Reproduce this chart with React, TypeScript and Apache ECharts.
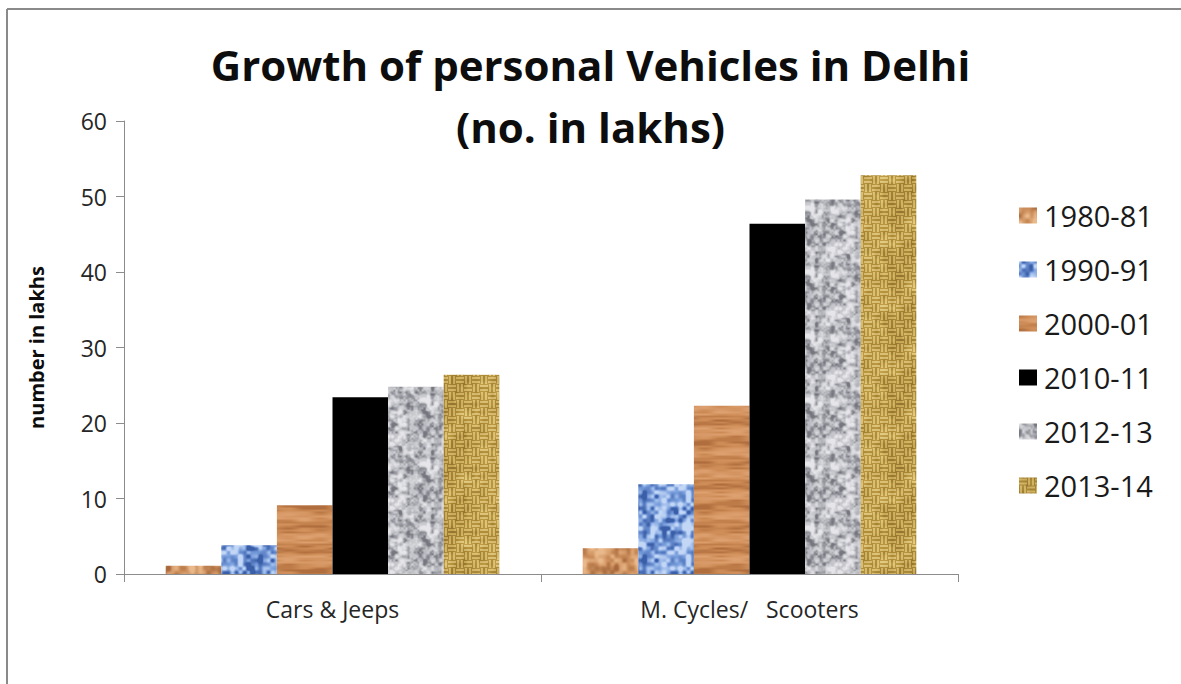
import React, { useEffect, useRef } from "react";
import * as echarts from "echarts";

const categories = ["Cars & Jeeps", "M. Cycles/   Scooters"];
const years = ["1980-81", "1990-91", "2000-01", "2010-11", "2012-13", "2013-14"];
const carsJeeps = [1.1, 3.8, 9.1, 23.4, 24.8, 26.4];
const cyclesScooters = [3.4, 11.9, 22.3, 46.4, 49.6, 52.8];
const yTicks = { min: 0, max: 60, interval: 10 };

const SIZE = 64;

function hash(i: number, j: number, seed: number) {
  let h = Math.imul(i | 0, 374761393) ^ Math.imul(j | 0, 668265263) ^ Math.imul(seed | 0, 982451653);
  h = Math.imul(h ^ (h >>> 13), 1274126177);
  h ^= h >>> 16;
  return (h >>> 0) / 4294967295;
}

function vnoise(x: number, y: number, cx: number, cy: number, seed: number) {
  const nx = SIZE / cx, ny = SIZE / cy;
  const gx = x / cx, gy = y / cy;
  const x0 = Math.floor(gx), y0 = Math.floor(gy);
  const fx = gx - x0, fy = gy - y0;
  const sx = fx * fx * (3 - 2 * fx), sy = fy * fy * (3 - 2 * fy);
  const wx = (a: number) => ((a % nx) + nx) % nx;
  const wy = (a: number) => ((a % ny) + ny) % ny;
  const a = hash(wx(x0), wy(y0), seed);
  const b = hash(wx(x0 + 1), wy(y0), seed);
  const c = hash(wx(x0), wy(y0 + 1), seed);
  const d = hash(wx(x0 + 1), wy(y0 + 1), seed);
  return a + (b - a) * sx + (c - a) * sy + (a - b - c + d) * sx * sy;
}

function hexRgb(h: string) {
  return [parseInt(h.slice(1, 3), 16), parseInt(h.slice(3, 5), 16), parseInt(h.slice(5, 7), 16)];
}

function ramp(stops: string[], v: number) {
  const s = stops.map(hexRgb);
  const t = Math.max(0, Math.min(1, v)) * (s.length - 1);
  const i = Math.min(s.length - 2, Math.floor(t));
  const f = t - i;
  return [0, 1, 2].map((k) => s[i][k] + (s[i + 1][k] - s[i][k]) * f);
}

function makeTexture(fn: (x: number, y: number) => number[]) {
  const cv = document.createElement("canvas");
  cv.width = SIZE;
  cv.height = SIZE;
  const ctx = cv.getContext("2d")!;
  const img = ctx.createImageData(SIZE, SIZE);
  for (let y = 0; y < SIZE; y++) {
    for (let x = 0; x < SIZE; x++) {
      const c = fn(x, y);
      const o = (y * SIZE + x) * 4;
      img.data[o] = c[0];
      img.data[o + 1] = c[1];
      img.data[o + 2] = c[2];
      img.data[o + 3] = 255;
    }
  }
  ctx.putImageData(img, 0, 0);
  return { image: cv, repeat: "repeat", imageWidth: SIZE, imageHeight: SIZE };
}

function contrast(v: number, k: number) {
  return 0.5 + (v - 0.5) * k;
}

function buildFills() {
  const t1980 = makeTexture((x, y) => {
    const v = 0.5 * vnoise(x, y, 8, 8, 1) + 0.3 * vnoise(x, y, 4, 4, 2) + 0.2 * vnoise(x, y, 16, 16, 3);
    return ramp(["#a66a3e", "#cf925f", "#e9b98c"], contrast(v, 2.0));
  });
  const t1990 = makeTexture((x, y) => {
    const v = 0.6 * vnoise(x, y, 4, 4, 4) + 0.4 * vnoise(x, y, 8, 8, 5);
    return ramp(["#3b5ea8", "#7a9fdc", "#c2d6f6"], contrast(v, 2.2));
  });
  const t2000 = makeTexture((x, y) => {
    const warp = 3 * vnoise(x, y, 32, 16, 6);
    const band = 0.5 + 0.5 * Math.sin((2 * Math.PI * 3 * (y + warp)) / SIZE);
    const grain = vnoise(x, y, 16, 2, 7);
    const v = 0.45 * band + 0.55 * grain;
    return ramp(["#b06e3e", "#cd8b56", "#dda170"], contrast(v, 1.3));
  });
  const t2012 = makeTexture((x, y) => {
    const v = 0.45 * vnoise(x, y, 4, 4, 8) + 0.35 * vnoise(x, y, 8, 8, 9) + 0.2 * vnoise(x, y, 2, 2, 10);
    return ramp(["#76777f", "#bdbec3", "#e6e6ea"], contrast(v, 2.0));
  });
  const t2013 = makeTexture((x, y) => {
    const bx = Math.floor(x / 8), by = Math.floor(y / 8);
    const horiz = (bx + by) % 2 === 0;
    const p = horiz ? y % 4 : x % 4;
    const thread = Math.sin((Math.PI * (p + 0.5)) / 4);
    const n = vnoise(x, y, 4, 4, 11);
    const m = vnoise(x, y, 16, 16, 12);
    const v = 0.6 * thread + 0.2 * n + 0.2 * m;
    return ramp(["#765820", "#b8963f", "#e8d08a"], contrast(v, 1.15));
  });
  return [t1980, t1990, t2000, "#000000", t2012, t2013];
}

export default function App() {
  const ref = useRef<HTMLDivElement>(null);
  useEffect(() => {
    if (!ref.current) return;
    const chart = echarts.init(ref.current, null, { renderer: "svg" });
    const fills = buildFills();
    const font = "'Open Sans', sans-serif";
    const series = years.map((y, i) => ({
      name: y,
      type: "bar",
      data: [carsJeeps[i], cyclesScooters[i]],
      barGap: "0%",
      barCategoryGap: "20%",
      itemStyle: { color: fills[i] as any },
    }));
    chart.setOption({
      animation: false,
      backgroundColor: "#ffffff",
      textStyle: { fontFamily: font },
      title: {
        text: "Growth of personal Vehicles in Delhi\n(no. in lakhs)",
        left: "center",
        top: 28,
        textStyle: { fontFamily: font, fontSize: 42, fontWeight: "bold", color: "#0d0d0d", lineHeight: 62 },
      },
      legend: {
        orient: "vertical",
        left: 1014,
        top: 196,
        itemWidth: 18,
        itemHeight: 16,
        itemGap: 25,
        icon: "rect",
        data: years,
        textStyle: { fontFamily: font, fontSize: 29, color: "#1a1a1a", padding: [0, 0, 0, 2] },
      },
      grid: { left: 124, right: 223, top: 121, bottom: 110 },
      xAxis: {
        type: "category",
        data: categories,
        axisLine: { lineStyle: { color: "#8c8c8c", width: 1 } },
        axisTick: { show: true, length: 8, lineStyle: { color: "#8c8c8c" } },
        axisLabel: { fontFamily: font, fontSize: 23, color: "#262626", margin: 23 },
      },
      yAxis: {
        type: "value",
        min: yTicks.min,
        max: yTicks.max,
        interval: yTicks.interval,
        name: "number in lakhs",
        nameLocation: "middle",
        nameGap: 78,
        nameTextStyle: { fontFamily: font, fontSize: 20, fontWeight: "bold", color: "#0d0d0d" },
        axisLine: { show: true, lineStyle: { color: "#8c8c8c", width: 1 } },
        axisTick: { show: true, length: 8, lineStyle: { color: "#8c8c8c" } },
        splitLine: { show: false },
        axisLabel: { fontFamily: font, fontSize: 23, color: "#262626", margin: 17 },
      },
      series,
      graphic: [
        { type: "line", shape: { x1: 7, y1: 9, x2: 1181, y2: 9 }, style: { stroke: "#8a8a8a", lineWidth: 2 } },
        { type: "line", shape: { x1: 7, y1: 9, x2: 7, y2: 684 }, style: { stroke: "#8a8a8a", lineWidth: 2 } },
      ],
    });
    return () => chart.dispose();
  }, []);
  return <div ref={ref} style={{ position: "fixed", left: 0, top: 0, width: 1181, height: 684 }} />;
}
